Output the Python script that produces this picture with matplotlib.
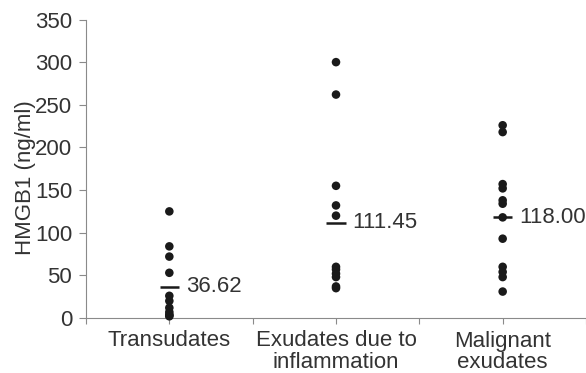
import numpy as np
import matplotlib
matplotlib.use("Agg")
import matplotlib.pyplot as plt

# HMGB1 levels (ng/ml) per effusion group
categories = ["Transudates", "Exudates due to\ninflammation", "Malignant\nexudates"]
transudates = [125, 84, 72, 53, 26, 20, 12, 7, 4, 3, 2]
inflammatory = [300, 262, 155, 132, 120, 60, 57, 52, 48, 37, 35]
malignant = [226, 218, 157, 152, 138, 134, 118, 93, 60, 54, 48, 31]
group_means = [36.62, 111.45, 118.00]
mean_labels = ["36.62", "111.45", "118.00"]

y_ticks = [0, 50, 100, 150, 200, 250, 300, 350]

plt.rcParams["font.family"] = ["Liberation Sans", "DejaVu Sans"]
FS = 16
TEXT = "#333333"
AXIS = "#8a8a8a"

fig = plt.figure(figsize=(5.86, 3.73), dpi=100)
ax = fig.add_axes([86 / 586, 55 / 373, 500 / 586, 298.5 / 373])

positions = [1, 3, 5]
groups = [transudates, inflammatory, malignant]
for pos, vals in zip(positions, groups):
    ax.scatter(np.full(len(vals), pos), vals, s=38, color="#1a1a1a",
               edgecolors="none", zorder=3, clip_on=False)

for pos, m, lab in zip(positions, group_means, mean_labels):
    ax.plot([pos - 0.115, pos + 0.115], [m, m], color="#1a1a1a", lw=1.8,
            solid_capstyle="butt", zorder=4)
    ax.text(pos + 0.2, m, lab, ha="left", va="center", fontsize=FS, color=TEXT)

ax.set_xlim(0, 6)
ax.set_ylim(0, 350)
ax.set_yticks(y_ticks)

# ticks every half group, category names centred under the groups
ax.xaxis.remove_overlapping_locs = False
ax.set_xticks(range(0, 7))
ax.set_xticklabels([])
ax.set_xticks(positions, minor=True)
ax.set_xticklabels(categories, minor=True, fontsize=FS, color=TEXT,
                   linespacing=1.05)
ax.tick_params(axis="x", which="minor", length=0, pad=9)
ax.tick_params(axis="x", which="major", length=4, color=AXIS, width=0.8)
ax.tick_params(axis="y", length=5, color=AXIS, width=0.8, pad=5,
               labelsize=FS, labelcolor=TEXT)

for side in ("top", "right"):
    ax.spines[side].set_visible(False)
for side in ("left", "bottom"):
    ax.spines[side].set_color(AXIS)
    ax.spines[side].set_linewidth(0.8)

ax.set_ylabel("HMGB1 (ng/ml)", fontsize=FS, color=TEXT)
ax.yaxis.set_label_coords(-0.1, 0.47)

fig.savefig("out.png", dpi=100, facecolor="white")
